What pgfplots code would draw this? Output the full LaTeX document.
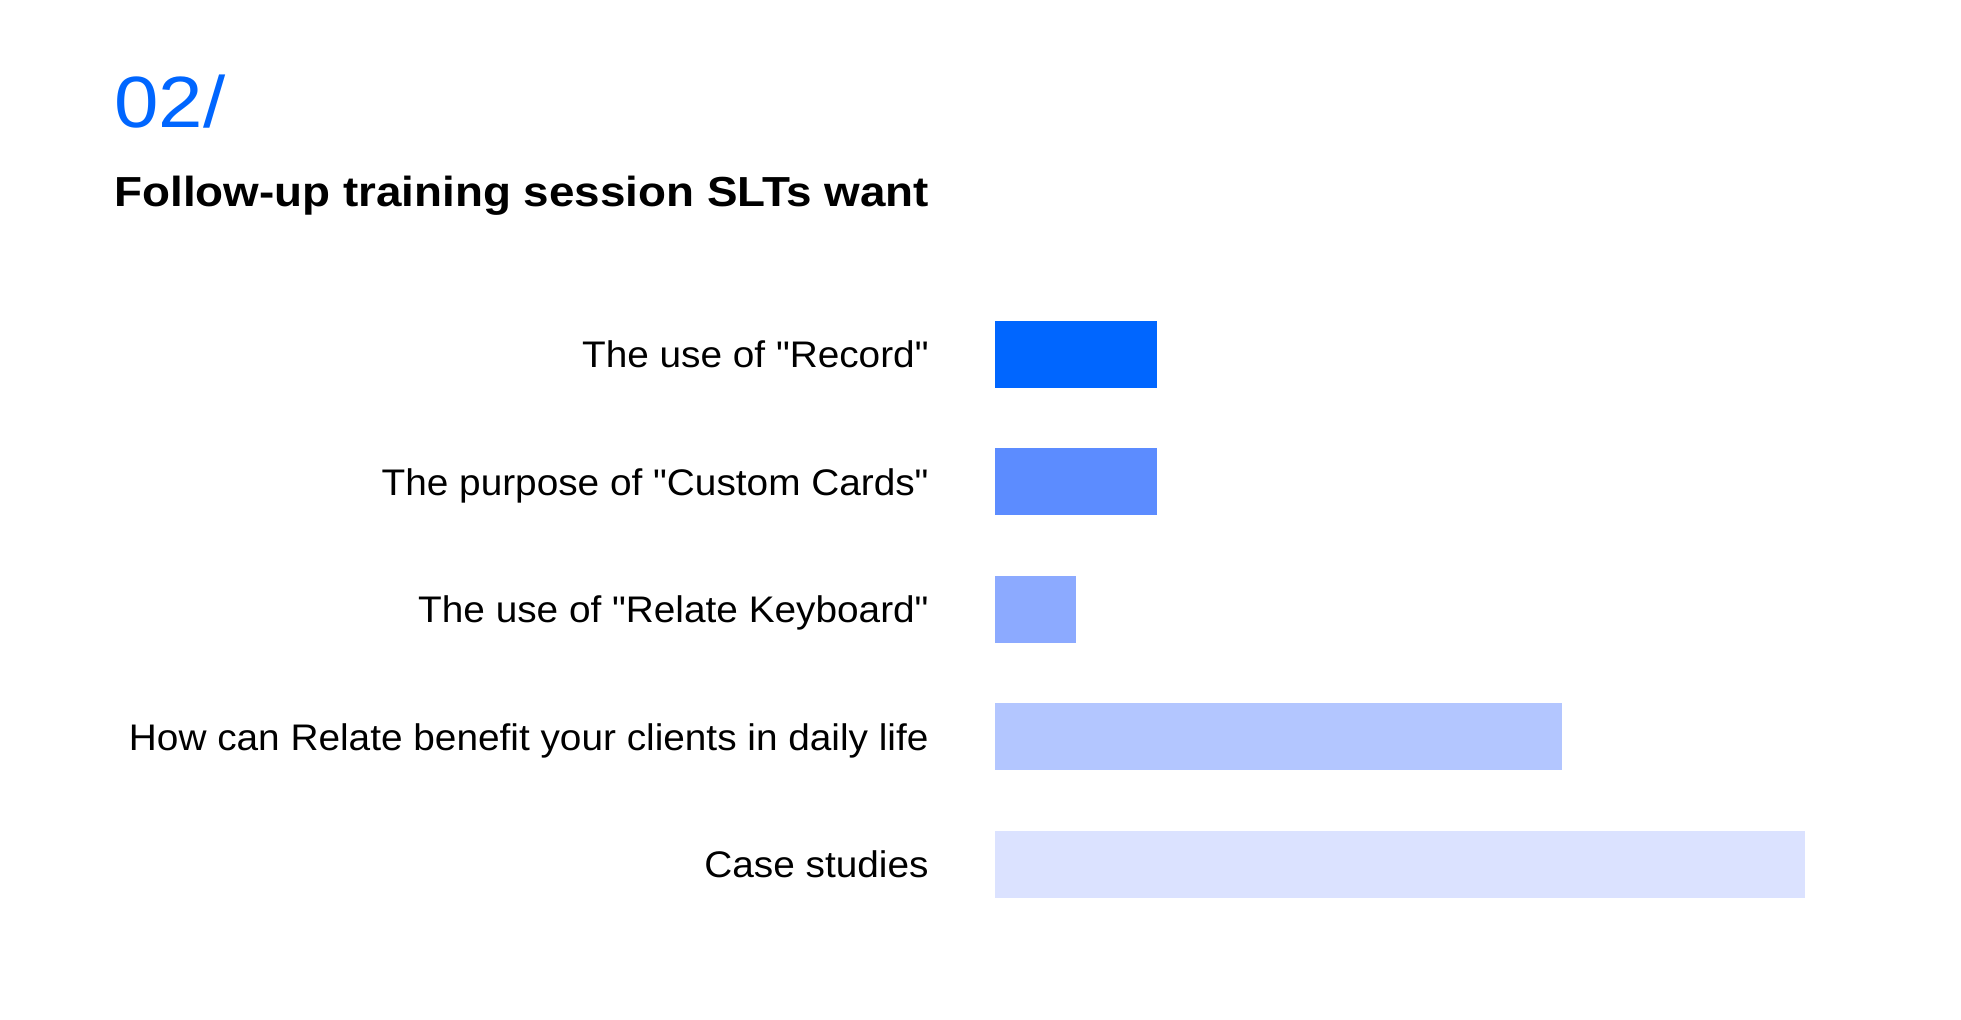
\documentclass[border=0pt]{standalone}
\usepackage{fontspec}
\setmainfont{Liberation Sans}
\newfontfamily\labelfont{Liberation Sans}[FakeStretch=1.048]
\newfontfamily\titlefont{Liberation Sans}[FakeStretch=1.09]
\newfontfamily\numfont{Liberation Sans}[FakeStretch=1.10]
\newcommand\q{\char34\relax}
\usepackage{pgfplots}
\pgfplotsset{compat=1.18}
\definecolor{c1}{HTML}{0066FF}
\definecolor{c2}{HTML}{5C8CFF}
\definecolor{c3}{HTML}{8CAAFF}
\definecolor{c4}{HTML}{B3C6FF}
\definecolor{c5}{HTML}{DBE2FF}
\begin{document}
\begin{tikzpicture}
\path[use as bounding box] (0,0) rectangle (980.5pt,510pt);
\node[anchor=base west, inner sep=0pt, text=c1, font=\numfont\fontsize{36.3pt}{40pt}\selectfont] at (57pt,446pt) {02/};
\node[anchor=base west, inner sep=0pt, font=\titlefont\fontsize{21pt}{25pt}\selectfont\bfseries] at (57pt,406.5pt) {Follow-up training session SLTs want};
\begin{axis}[
  at={(497.5pt,45.875pt)}, anchor=south west,
  scale only axis, width=405pt, height=318.75pt,
  xmin=0, xmax=10, ymin=-0.5, ymax=4.5, y dir=reverse,
  axis line style={draw=none}, major tick length=0pt,
  xtick=\empty, ytick={0,1,2,3,4},
  yticklabels={The use of \q Record\q, The purpose of \q Custom Cards\q, The use of \q Relate Keyboard\q, How can Relate benefit your clients in daily life, Case studies},
  yticklabel style={anchor=base east, inner sep=0pt, xshift=-33pt, yshift=-6.6pt, font=\labelfont\fontsize{18.5pt}{22pt}\selectfont},
  xbar stacked, bar width=33.5pt,
  clip=false,
]
\addplot[fill=c1, draw=none] coordinates {(2,0) (0,1) (0,2) (0,3) (0,4)};
\addplot[fill=c2, draw=none] coordinates {(0,0) (2,1) (0,2) (0,3) (0,4)};
\addplot[fill=c3, draw=none] coordinates {(0,0) (0,1) (1,2) (0,3) (0,4)};
\addplot[fill=c4, draw=none] coordinates {(0,0) (0,1) (0,2) (7,3) (0,4)};
\addplot[fill=c5, draw=none] coordinates {(0,0) (0,1) (0,2) (0,3) (10,4)};
\end{axis}
\end{tikzpicture}
\end{document}
